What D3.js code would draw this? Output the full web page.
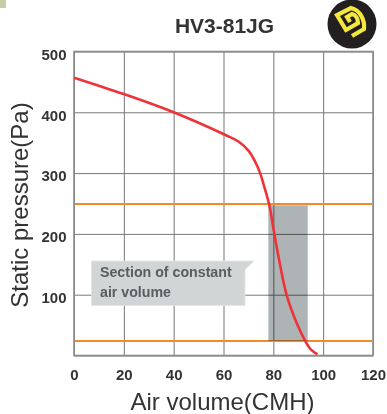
<!DOCTYPE html>
<html>
<head>
<meta charset="utf-8">
<script src="https://cdn.jsdelivr.net/npm/d3@7"></script>
<style>
html, body { margin: 0; padding: 0; background: #fff; }
svg { display: block; font-family: "Liberation Sans", Arial, sans-serif; }
.tick text { font-size: 15px; font-weight: bold; fill: #333; stroke: none; }
</style>
</head>
<body>
<div id="graph"></div>
<script>
// values
const airVolume = [0, 20, 40, 60.6, 66, 70, 72.7, 74.7, 76.4, 78.4, 80.2, 82.2, 85.3, 89.4, 92.8, 95, 97.7]
const pressure = [457, 430, 400, 363, 352, 337, 319, 300, 277, 247, 205, 160, 100, 53, 24, 10, 2]
const xTicks = [0, 20, 40, 60, 80, 100, 120]
const yTicks = [0, 100, 200, 300, 400, 500]
const limitLines = [249, 24]
const bandVolume = [78, 93.8]
const bandPressure = [247, 24]
const title = "HV3-81JG"
const xTitle = "Air volume(CMH)"
const yTitle = "Static pressure(Pa)"
const calloutLines = ["Section of constant", "air volume"]

const width = 387, height = 414
const margin = {top: 51.5, right: 14, bottom: 58.5, left: 74}
const innerW = width - margin.left - margin.right
const innerH = height - margin.top - margin.bottom

const svg = d3.select("#graph").append("svg")
    .attr("width", width)
    .attr("height", height)

// leftover corner of the page the chart was cut from
svg.append("rect").attr("width", 6).attr("height", 8).attr("fill", "#c6cca6")

const g = svg.append("g")
    .attr("transform", "translate(" + margin.left + "," + margin.top + ")")

const x = d3.scaleLinear().domain([0, 120]).range([0, innerW])
const y = d3.scaleLinear().domain([0, 500]).range([innerH, 0])

// grid
g.append("g")
    .attr("transform", "translate(0," + innerH + ")")
    .call(d3.axisBottom(x).tickValues(xTicks).tickSize(-innerH).tickFormat(""))
    .call(s => s.selectAll("line").attr("stroke", "#777").attr("stroke-width", 1))
    .call(s => s.select(".domain").remove())

g.append("g")
    .call(d3.axisLeft(y).tickValues(yTicks).tickSize(-innerW).tickFormat(""))
    .call(s => s.selectAll("line").attr("stroke", "#777").attr("stroke-width", 1))
    .call(s => s.select(".domain").remove())

// frame
g.append("rect")
    .attr("width", innerW)
    .attr("height", innerH)
    .attr("fill", "none")
    .attr("stroke", "#8a8c8e")
    .attr("stroke-width", 1.6)

// orange limits
g.selectAll(".limit").data(limitLines).enter().append("line")
    .attr("class", "limit")
    .attr("x1", 1)
    .attr("x2", innerW - 1)
    .attr("y1", d => y(d))
    .attr("y2", d => y(d))
    .attr("stroke", "#f58a2c")
    .attr("stroke-width", 2)

// constant air volume section
g.append("rect")
    .attr("x", x(bandVolume[0]))
    .attr("y", y(bandPressure[0]))
    .attr("width", x(bandVolume[1]) - x(bandVolume[0]))
    .attr("height", y(bandPressure[1]) - y(bandPressure[0]))
    .attr("fill", "#aeb3b6")
    .style("mix-blend-mode", "multiply")

// callout
const callout = svg.append("g").attr("transform", "translate(91.5,261)")
callout.append("path")
    .attr("d", "M0,0H162.5L153.5,8.5V44.5H0Z")
    .attr("fill", "#d2d5d6")
    .attr("stroke", "#e2e4e5")
    .attr("stroke-width", 0.8)
callout.selectAll("text").data(calloutLines).enter().append("text")
    .attr("x", 8.5)
    .attr("y", (d, i) => 16 + i * 20)
    .attr("font-size", 14.2)
    .attr("font-weight", "bold")
    .attr("fill", "#595d60")
    .text(d => d)

// curve
const points = airVolume.map((v, i) => [v, pressure[i]])
const line = d3.line()
    .x(d => x(d[0]))
    .y(d => y(d[1]))
    .curve(d3.curveCatmullRom.alpha(0.5))

g.append("path")
    .datum(points)
    .attr("d", line)
    .attr("fill", "none")
    .attr("stroke", "#ee3338")
    .attr("stroke-width", 2.6)

// tick labels
g.append("g")
    .attr("transform", "translate(0," + innerH + ")")
    .call(d3.axisBottom(x).tickValues(xTicks).tickSize(0).tickPadding(14))
    .call(s => s.select(".domain").remove())

g.append("g")
    .attr("transform", "translate(0,3)")
    .call(d3.axisLeft(y).tickValues(yTicks.slice(1)).tickSize(0).tickPadding(7.5))
    .call(s => s.select(".domain").remove())

// titles
svg.append("text")
    .attr("x", 224.5)
    .attr("y", 33)
    .attr("text-anchor", "middle")
    .attr("font-size", 21)
    .attr("font-weight", "bold")
    .attr("fill", "#333")
    .text(title)

svg.append("text")
    .attr("x", 222.5)
    .attr("y", 410)
    .attr("text-anchor", "middle")
    .attr("font-size", 24)
    .attr("fill", "#333")
    .text(xTitle)

svg.append("text")
    .attr("transform", "translate(27.5,205) rotate(-90)")
    .attr("text-anchor", "middle")
    .attr("font-size", 24)
    .attr("fill", "#333")
    .text(yTitle)

// logo
const logo = svg.append("g").attr("transform", "translate(352,24)")
logo.append("circle").attr("r", 24.5).attr("fill", "#231f20")
logo.append("path")
    .attr("d", "M0,12L12,5C13,-4 8,-14 -1,-16L-15,-9L-6,6L6,-1C6,-5 4,-9 0,-10L-5,-7L-2,-2")
    .attr("fill", "none")
    .attr("stroke", "#f5e83c")
    .attr("stroke-width", 4.2)
</script>
</body>
</html>
